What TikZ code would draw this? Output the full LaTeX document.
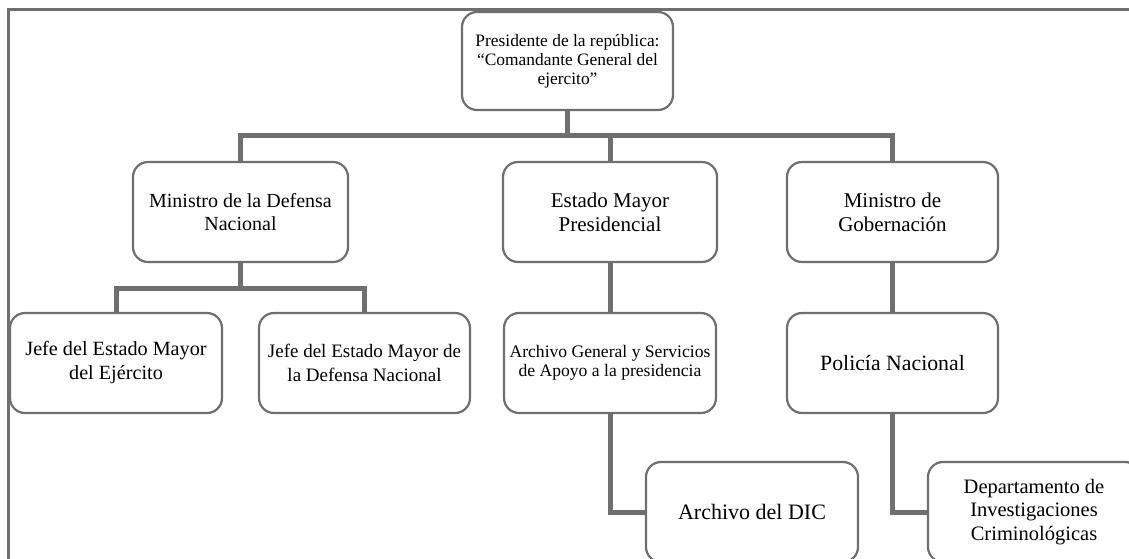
\documentclass[tikz,border=0pt]{standalone}
\usepackage{fontspec}
\setmainfont{Liberation Serif}
\definecolor{grisl}{HTML}{6F6F6F}
\begin{document}
\begin{tikzpicture}[x=1pt, y=-1pt, line join=miter]
	\tikzset{caja/.style={draw=grisl, line width=2.2pt, rounded corners=15pt, fill=white, minimum width=212pt, minimum height=100pt, align=center, inner sep=2pt, font=\fontsize{21}{24}\selectfont},
		conector/.style={draw=grisl, line width=5pt}}
	\useasboundingbox (0,0) rectangle (1129,558);
	\clip (0,0) rectangle (1129,558);
	%Marco
	\draw[grisl, line width=3pt] (8,600) -- (8,9) -- (1200,9);
	%Cajas
	\node[caja, minimum width=211pt, minimum height=98pt, font=\fontsize{17.4}{19}\selectfont] (pres) at (567.5,61) {Presidente de la república:\\“Comandante General del\\ejercito”};
	\node[caja, minimum width=215pt, font=\fontsize{20}{23.5}\selectfont] (mdn) at (240.5,212) {Ministro de la Defensa\\Nacional};
	\node[caja, minimum width=214pt] (emp) at (610,212) {Estado Mayor\\Presidencial};
	\node[caja, minimum width=211pt] (mgob) at (892.5,212) {Ministro de\\Gobernación};
	\node[caja, font=\fontsize{20.2}{24}\selectfont] (jeme) at (116,363) {Jefe del Estado Mayor\\del Ejército};
	\node[caja, minimum width=211pt, font=\fontsize{19}{24}\selectfont] (jemdn) at (364.5,363) {Jefe del Estado Mayor de\\la Defensa Nacional};
	\node[caja, font=\fontsize{17.6}{18.5}\selectfont] (agsap) at (610,363) {Archivo General y Servicios\\de Apoyo a la presidencia};
	\node[caja, minimum width=211pt, font=\fontsize{21.8}{24}\selectfont] (pnac) at (892.5,363) {Policía Nacional};
	\node[caja, font=\fontsize{22}{25}\selectfont] (dic) at (752,512) {Archivo del DIC};
	\node[caja, font=\fontsize{20.5}{23.5}\selectfont] (dic2) at (1034,512) {Departamento de\\Investigaciones\\Criminológicas};
	%Conectores
	\coordinate (bus) at (0,135);
	\coordinate (bus2) at (0,288);
	\draw[conector] (pres.south) -- (pres.south |- bus);
	\draw[conector] (mdn.north) -- (mdn.north |- bus) -- (mgob.north |- bus) -- (mgob.north);
	\draw[conector] (emp.north) -- (emp.north |- bus);
	\draw[conector] (mdn.south) -- (mdn.south |- bus2);
	\draw[conector] (jeme.north) -- (jeme.north |- bus2) -- (jemdn.north |- bus2) -- (jemdn.north);
	\draw[conector] (emp.south) -- (agsap.north);
	\draw[conector] (agsap.south) |- (dic.west);
	\draw[conector] (mgob.south) -- (pnac.north);
	\draw[conector] (pnac.south) |- (dic2.west);
\end{tikzpicture}
\end{document}
